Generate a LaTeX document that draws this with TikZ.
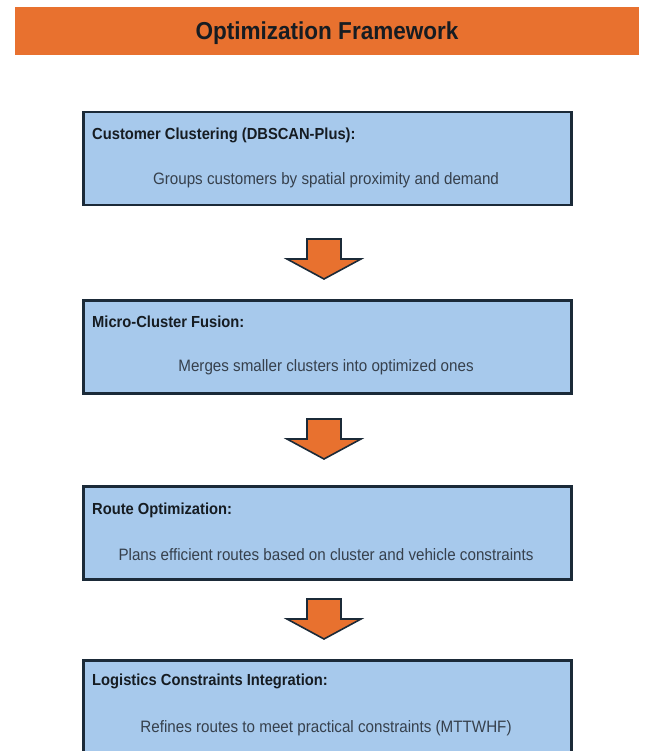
\documentclass[tikz,border=0pt]{standalone}
\usepackage{fontspec}
\setmainfont[FakeStretch=0.92]{Liberation Sans}
\usetikzlibrary{calc}
\definecolor{hdrorange}{HTML}{E8712F}
\definecolor{boxblue}{HTML}{A7C9EC}
\definecolor{boxline}{HTML}{1B2A38}
\definecolor{bodytext}{HTML}{36404C}
\definecolor{titletext}{HTML}{161C22}
\tikzset{
  header/.style={fill=hdrorange, draw=none, minimum width=624pt, minimum height=48pt, inner sep=0pt},
  stagebox/.style={fill=boxblue, draw=boxline, line width=2.5pt, minimum width=488pt, minimum height=93pt, inner sep=0pt, anchor=north west},
  stagetitle/.style={font=\fontsize{16}{19}\selectfont\bfseries, text=titletext, anchor=west, inner sep=0pt},
  stagebody/.style={font=\fontsize{16.5}{19}\selectfont, text=bodytext, anchor=center, inner sep=0pt},
  blockarrow/.style={fill=hdrorange, draw=boxline, line width=1.6pt, line join=miter}
}
\begin{document}
\begin{tikzpicture}[x=1pt,y=-1pt]
\clip (0,0) rectangle (649,751);
\fill[white] (0,0) rectangle (649,751);

\node[header] (hdr) at (327,31) {};
\node[font=\fontsize{24.5}{28}\selectfont\bfseries, text=titletext, inner sep=0pt] (hdrtext) at (327,33) {Optimization Framework};

% boxes
\node[stagebox] (b1) at (82,111) {};
\node[stagetitle] (t1) at (92,135) {Customer Clustering (DBSCAN-Plus):};
\node[stagebody] (d1) at (326,180) {Groups customers by spatial proximity and demand};

\node[stagebox] (b2) at (82,299) {};
\node[stagetitle] (t2) at (92,322) {Micro-Cluster Fusion:};
\node[stagebody] (d2) at (326,367) {Merges smaller clusters into optimized ones};

\node[stagebox] (b3) at (82,485) {};
\node[stagetitle] (t3) at (92,510) {Route Optimization:};
\node[stagebody] (d3) at (326,555) {Plans efficient routes based on cluster and vehicle constraints};

\node[stagebox, minimum height=100pt] (b4) at (82,659) {};
\node[stagetitle] (t4) at (92,681) {Logistics Constraints Integration:};
\node[stagebody] (d4) at (326,728) {Refines routes to meet practical constraints (MTTWHF)};

% block arrows
\coordinate (a1) at (324,239);
\coordinate (a2) at (324,419);
\coordinate (a3) at (324,599);
\foreach \a in {a1,a2,a3}{
  \draw[blockarrow] ($(\a)+(-17,0)$) -- ($(\a)+(17,0)$) -- ($(\a)+(17,20)$) -- ($(\a)+(37,20)$)
    -- ($(\a)+(0,40)$) -- ($(\a)+(-37,20)$) -- ($(\a)+(-17,20)$) -- cycle;
}
\end{tikzpicture}
\end{document}
